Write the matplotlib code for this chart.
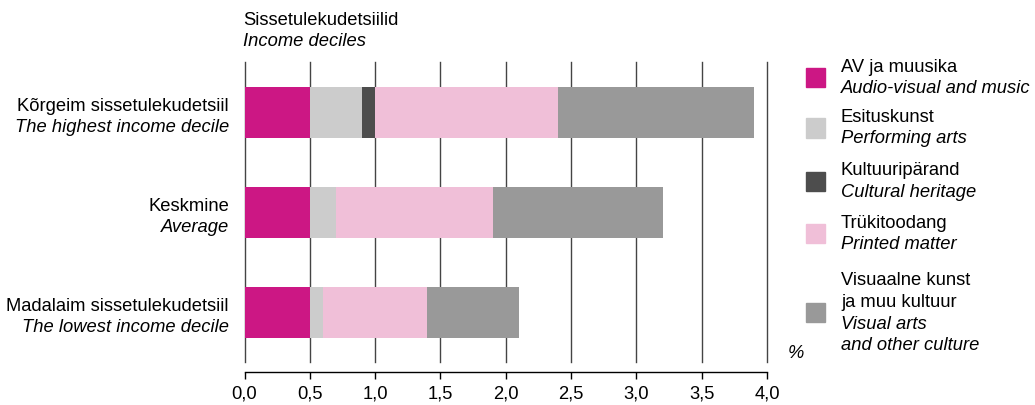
import matplotlib
matplotlib.use("Agg")
import matplotlib.pyplot as plt
from matplotlib.patches import Rectangle

plt.rcParams['font.family'] = ['Liberation Sans', 'DejaVu Sans']

# Data (%), rows from bottom to top
groups_et = ["Madalaim sissetulekudetsiil", "Keskmine", "Kõrgeim sissetulekudetsiil"]
groups_en = ["The lowest income decile", "Average", "The highest income decile"]

av_music = [0.5, 0.5, 0.5]
performing = [0.1, 0.2, 0.4]
heritage = [0.0, 0.0, 0.1]
printed = [0.8, 1.2, 1.4]
visual = [0.7, 1.3, 1.5]

series = [av_music, performing, heritage, printed, visual]
colors = ["#CC1784", "#CCCCCC", "#4D4D4D", "#F0BFD8", "#999999"]
legend_et = ["AV ja muusika", "Esituskunst", "Kultuuripärand", "Trükitoodang",
             "Visuaalne kunst\nja muu kultuur"]
legend_en = ["Audio-visual and music", "Performing arts", "Cultural heritage",
             "Printed matter", "Visual arts\nand other culture"]
xticks = [0.0, 0.5, 1.0, 1.5, 2.0, 2.5, 3.0, 3.5, 4.0]

W, H = 1035, 405
FS = 13.2


def fx(px):
    return px / W


def fy(py):
    return 1 - py / H


fig = plt.figure(figsize=(W / 100, H / 100), dpi=100)
ax = fig.add_axes([fx(244.5), fy(362), fx(767) - fx(244.5), fy(62) - fy(362)])

ypos = list(range(len(groups_et)))
left = [0.0] * len(ypos)
for vals, col in zip(series, colors):
    ax.barh(ypos, vals, left=left, height=0.51, color=col, zorder=3, linewidth=0)
    left = [l + v for l, v in zip(left, vals)]

for s in ['top', 'right', 'left']:
    ax.spines[s].set_visible(False)
ax.spines['bottom'].set_position(('outward', 7))
ax.spines['bottom'].set_linewidth(1.0)

ax.set_xlim(0, 4)
ax.set_ylim(-0.5, 2.5)
ax.set_xticks(xticks)
ax.set_xticklabels([f"{t:.1f}".replace(".", ",") for t in xticks])
ax.set_yticks([])
ax.tick_params(axis='x', direction='out', length=5, width=1.0, pad=5,
               labelsize=FS)
ax.grid(axis='x', color='#444444', linewidth=1.0, zorder=0)
for gl in ax.xaxis.get_gridlines():
    gl.set_clip_on(False)

# category labels
ytr = ax.get_yaxis_transform()
for y, et, en in zip(ypos, groups_et, groups_en):
    ax.text(-0.0297, y + 0.008, et, transform=ytr, ha='right', va='baseline', fontsize=FS)
    ax.text(-0.0297, y - 0.205, en, transform=ytr, ha='right', va='baseline',
            fontsize=FS, style='italic')

# axis title
fig.text(fx(243), fy(25), "Sissetulekudetsiilid", ha='left', va='baseline', fontsize=FS)
fig.text(fx(243), fy(46), "Income deciles", ha='left', va='baseline', fontsize=FS,
         style='italic')
fig.text(fx(788), fy(358), "%", ha='left', va='baseline', fontsize=FS, style='italic')

# legend
sq_centers = [77.5, 128, 182, 234, 312]
text_rows = [[71.7, 92.7], [121.7, 143], [175, 196.7], [227.7, 249],
             [285, 306.7, 329, 350]]
for col, c, rows, et, en in zip(colors, sq_centers, text_rows, legend_et, legend_en):
    fig.patches.append(Rectangle((fx(806), fy(c + 9.5)), fx(19), 19 / H,
                                 transform=fig.transFigure, color=col, figure=fig))
    lines = [(t, 'normal') for t in et.split("\n")] + [(t, 'italic') for t in en.split("\n")]
    for (txt, st), r in zip(lines, rows):
        fig.text(fx(841), fy(r), txt, ha='left', va='baseline', fontsize=FS, style=st)

fig.savefig("out.png", dpi=100)
